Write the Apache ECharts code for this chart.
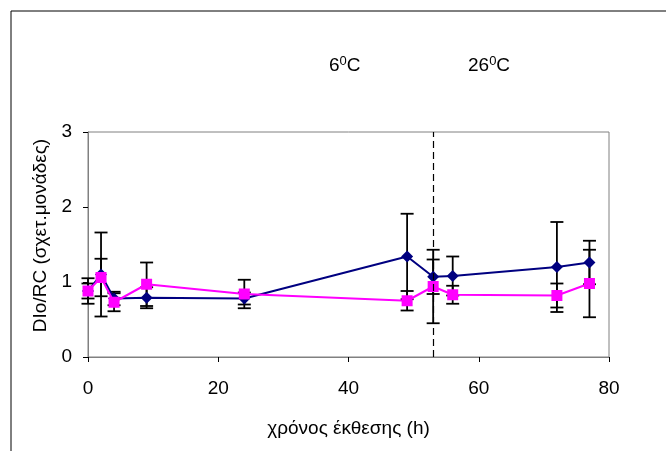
<!DOCTYPE html>
<html>
<head>
<meta charset="utf-8">
<script src="https://cdn.jsdelivr.net/npm/echarts@6/dist/echarts.min.js"></script>
<style>
html,body{margin:0;padding:0;background:#fff;}
#main{width:666px;height:451px;}
</style>
</head>
<body>
<div id="main"></div>
<script>
// exposure time (h)
const hours = [0, 2, 4, 9, 24, 49, 53, 56, 72, 77];
// navy series (diamonds) and its error
const blueVals = [0.88, 1.10, 0.78, 0.79, 0.78, 1.34, 1.07, 1.08, 1.20, 1.26];
const blueErr = [0.10, 0.56, 0.09, 0.14, 0.08, 0.57, 0.23, 0.26, 0.60, 0.29];
// magenta series (squares) and its error
const pinkVals = [0.88, 1.06, 0.73, 0.97, 0.84, 0.75, 0.94, 0.83, 0.82, 0.98];
const pinkErr = [0.17, 0.25, 0.12, 0.29, 0.19, 0.13, 0.49, 0.12, 0.16, 0.45];
const switchHour = 53;

const font = 'Liberation Sans, Arial, sans-serif';
const fs = 19;

function pairs(vals){
    return hours.map((h, i) => [h, vals[i]]);
}
function errData(vals, err){
    return hours.map((h, i) => [h, vals[i] - err[i], vals[i] + err[i]]);
}
function errorSeries(vals, err){
    return {
        type: 'custom',
        z: 1,
        silent: true,
        renderItem: function (params, api) {
            let x = api.value(0);
            let lo = api.coord([x, api.value(1)]);
            let hi = api.coord([x, api.value(2)]);
            let w = 6.5;
            let st = {stroke: '#000', lineWidth: 1.8};
            return {
                type: 'group',
                children: [
                    {type: 'line', shape: {x1: lo[0], y1: lo[1], x2: hi[0], y2: hi[1]}, style: st},
                    {type: 'line', shape: {x1: lo[0] - w, y1: lo[1], x2: lo[0] + w, y2: lo[1]}, style: st},
                    {type: 'line', shape: {x1: hi[0] - w, y1: hi[1], x2: hi[0] + w, y2: hi[1]}, style: st}
                ]
            };
        },
        encode: {x: 0, y: [1, 2]},
        data: errData(vals, err)
    };
}
function tempLabel(left, txt){
    return {type: 'text', left: left, top: 55, style: {
        rich: {
            n: {fontSize: fs, fontFamily: font, fill: '#000'},
            s: {fontSize: 13, fontFamily: font, fill: '#000', verticalAlign: 'top', padding: [0, 0, 9, 0]}
        },
        text: txt
    }};
}

let option = {
    animation: false,
    backgroundColor: '#fff',
    textStyle: {fontFamily: font},
    grid: {left: 88, top: 132, right: 57, bottom: 94, show: true, borderColor: '#808080', borderWidth: 1},
    xAxis: {
        type: 'value', min: 0, max: 80, interval: 20,
        name: 'χρόνος έκθεσης (h)', nameLocation: 'middle', nameGap: 62,
        nameTextStyle: {fontSize: fs, color: '#000', fontFamily: font},
        axisLine: {lineStyle: {color: '#808080'}},
        axisTick: {length: 5, lineStyle: {color: '#000'}},
        axisLabel: {fontSize: fs, color: '#000', margin: 22, fontFamily: font},
        splitLine: {show: false}
    },
    yAxis: {
        type: 'value', min: 0, max: 3, interval: 1,
        name: 'DIo/RC (σχετ.μονάδες)', nameLocation: 'middle', nameGap: 35,
        nameTextStyle: {fontSize: fs, color: '#000', fontFamily: font, padding: [0, 0, 0, 18]},
        axisLine: {show: true, lineStyle: {color: '#808080'}},
        axisTick: {show: true, length: 5, lineStyle: {color: '#000'}},
        axisLabel: {fontSize: fs, color: '#000', margin: 16, fontFamily: font},
        splitLine: {show: false}
    },
    graphic: [
        {type: 'rect', shape: {x: 11, y: 11, width: 700, height: 500}, style: {fill: 'none', stroke: '#000', lineWidth: 1}},
        tempLabel(329, '{n|6}{s|0}{n|C}'),
        tempLabel(468, '{n|26}{s|0}{n|C}')
    ],
    series: [
        errorSeries(blueVals, blueErr),
        errorSeries(pinkVals, pinkErr),
        {
            type: 'line', z: 3,
            data: pairs(blueVals),
            symbol: 'diamond', symbolSize: 12,
            itemStyle: {color: '#000080'},
            lineStyle: {color: '#000080', width: 2},
            markLine: {
                silent: true, symbol: 'none', label: {show: false},
                lineStyle: {color: '#000', type: [7, 4], width: 1.2},
                data: [{xAxis: switchHour}]
            }
        },
        {
            type: 'line', z: 4,
            data: pairs(pinkVals),
            symbol: 'rect', symbolSize: 11,
            itemStyle: {color: '#FF00FF'},
            lineStyle: {color: '#FF00FF', width: 2}
        }
    ]
};
let myChart = echarts.init(document.getElementById('main'));
myChart.setOption(option);
</script>
</body>
</html>
